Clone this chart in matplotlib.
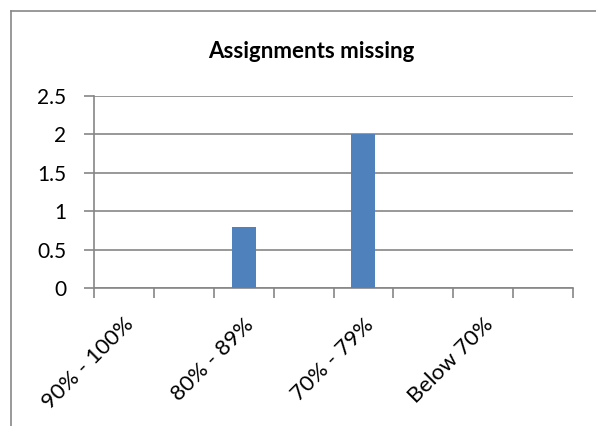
import matplotlib
matplotlib.use("Agg")
import matplotlib.pyplot as plt
from matplotlib.lines import Line2D
import numpy as np

categories = ["90% - 100%", "", "80% - 89%", "", "70% - 79%", "", "Below 70%", ""]
values = [0, 0, 0.8, 0, 2, 0, 0, 0]
yticks = [0, 0.5, 1, 1.5, 2, 2.5]
ytick_labels = ["0", "0.5", "1", "1.5", "2", "2.5"]
title = "Assignments missing"

plt.rcParams['font.family'] = ['Lato', 'DejaVu Sans']
W, H = 596, 426
fig = plt.figure(figsize=(W/100, H/100), dpi=100)
fig.patch.set_facecolor("white")

# chart border
fig.add_artist(Line2D([11/W, 11/W], [0, 1 - 11/H], color="#888888", lw=1.2))
fig.add_artist(Line2D([11/W, 1], [1 - 11/H, 1 - 11/H], color="#888888", lw=1.2))

ax = fig.add_axes([94/W, (H-288)/H, (573-94)/W, (288-96)/H])
x = np.arange(len(categories))
ax.bar(x, values, width=0.4, color="#4F81BD", zorder=3)
ax.set_xlim(-0.5, len(categories) - 0.5)
ax.set_ylim(0, 2.5)
ax.set_yticks(yticks)
ax.set_yticklabels(ytick_labels, fontsize=15)
ax.grid(axis="y", color="#868686", lw=1.2, zorder=0)
ax.set_axisbelow(True)

ax.set_xticks(x)
ax.set_xticklabels(categories, rotation=45, ha="right", va="top",
                   rotation_mode="anchor", fontsize=16)
ax.set_xticks(np.arange(len(categories) + 1) - 0.5, minor=True)
ax.tick_params(axis="x", which="major", length=0, pad=19)
ax.tick_params(axis="x", which="minor", length=7, width=1.2, color="#868686", direction="out")
ax.tick_params(axis="y", length=7, width=1.2, color="#868686", pad=13)

for s in ["top", "right"]:
    ax.spines[s].set_visible(False)
for s in ["left", "bottom"]:
    ax.spines[s].set_color("#868686")
    ax.spines[s].set_linewidth(1.2)

fig.text(311/W, 1 - 52/H, title, ha="center", va="center", fontsize=16, fontweight="bold")

fig.savefig("out.png", dpi=100)
